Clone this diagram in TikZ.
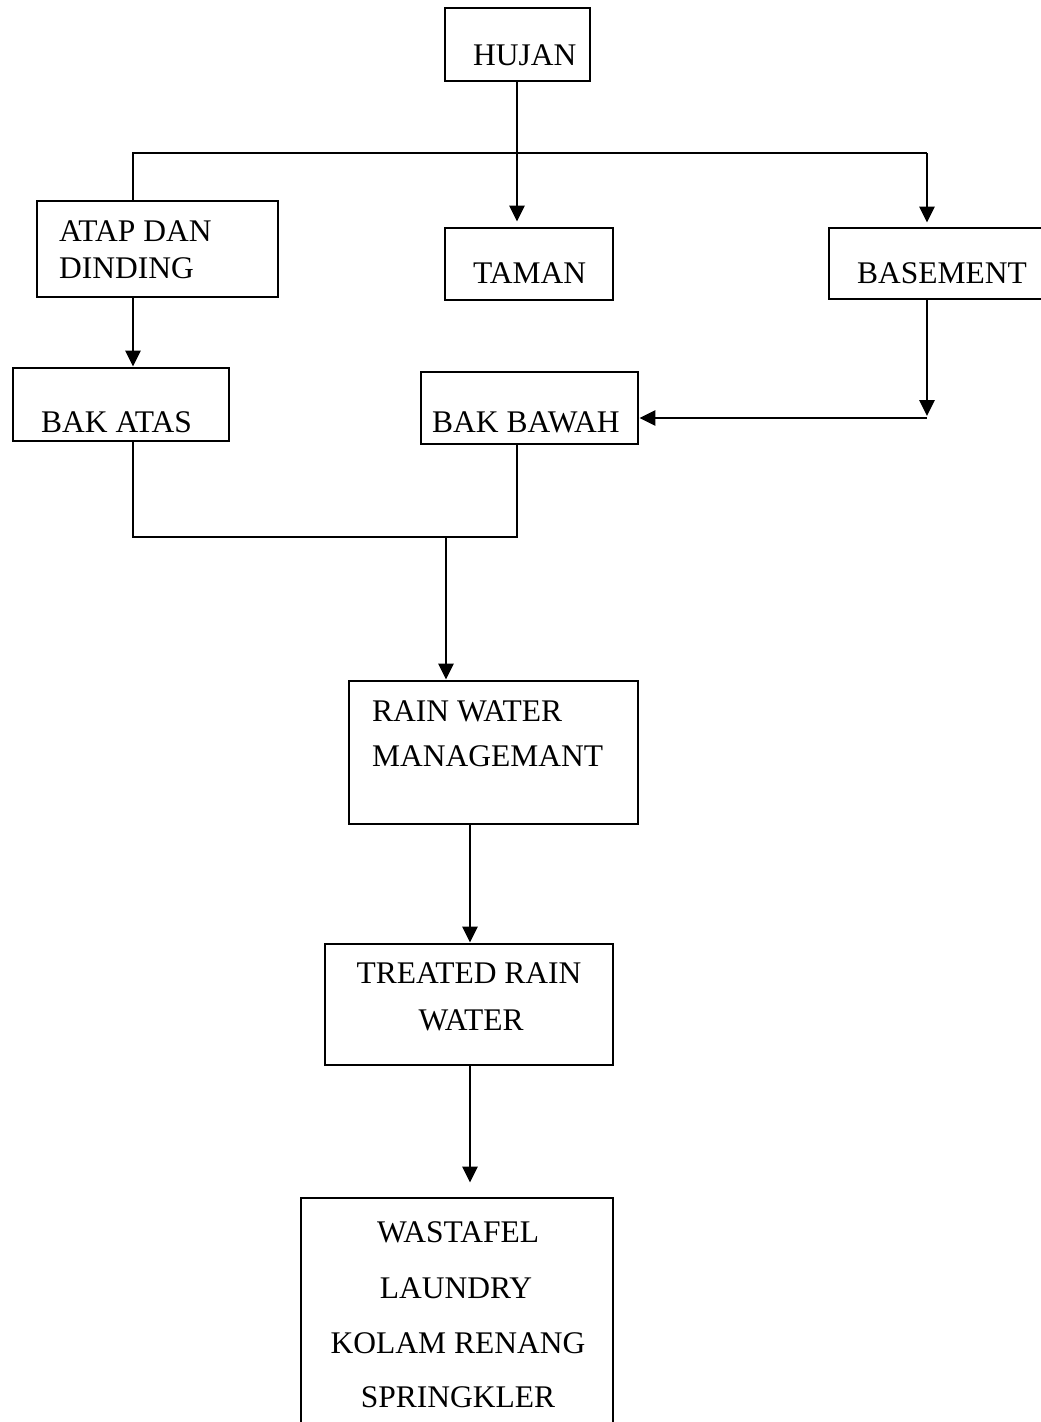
\documentclass[tikz,border=0pt]{standalone}
\usepackage{fontspec}
\setmainfont{Liberation Serif}
\usetikzlibrary{arrows.meta}
\begin{document}
\begin{tikzpicture}[x=1pt,y=-1pt,
  box/.style={draw,line width=2.8pt,inner sep=0pt},
  lbl/.style={anchor=base west,inner sep=0pt,font=\fontsize{31.5}{36}\selectfont},
  clbl/.style={anchor=base,inner sep=0pt,font=\fontsize{31.5}{36}\selectfont},
  conn/.style={line width=2.8pt},
  arr/.style={line width=2.8pt,-{Triangle[length=16pt,width=15pt]}}]
\useasboundingbox (0,0) rectangle (1041,1422);
\clip (0,0) rectangle (1041,1422);
% boxes
\node[box,minimum width=145pt,minimum height=73pt] (hujan) at (517.5,44.5) {};
\node[box,minimum width=241pt,minimum height=96pt] (atap) at (157.5,249) {};
\node[box,minimum width=168pt,minimum height=72pt] (taman) at (529,264) {};
\node[box,minimum width=231pt,minimum height=71pt] (basement) at (944.5,263.5) {};
\node[box,minimum width=216pt,minimum height=73pt] (bakatas) at (121,404.5) {};
\node[box,minimum width=217pt,minimum height=72pt] (bakbawah) at (529.5,408) {};
\node[box,minimum width=289pt,minimum height=143pt] (rain) at (493.5,752.5) {};
\node[box,minimum width=288pt,minimum height=121pt] (treated) at (469,1004.5) {};
\node[box,minimum width=312pt,minimum height=242pt] (use) at (457,1319) {};
% texts
\node[lbl] (thujan) at (473,65) {HUJAN};
\node[lbl] (tatap1) at (59,241) {ATAP DAN};
\node[lbl] (tatap2) at (59,278) {DINDING};
\node[lbl] (ttaman) at (473,283) {TAMAN};
\node[lbl] (tbase) at (857,283) {BASEMENT};
\node[lbl] (tbakatas) at (41,432) {BAK ATAS};
\node[lbl] (tbakbawah) at (432,432) {BAK BAWAH};
\node[lbl] (train1) at (372,721) {RAIN WATER};
\node[lbl] (train2) at (372,766) {MANAGEMANT};
\node[clbl] (ttreat1) at (469,983) {TREATED RAIN};
\node[clbl] (ttreat2) at (471,1030) {WATER};
\node[clbl] (tuse1) at (458,1242) {WASTAFEL};
\node[clbl] (tuse2) at (456,1298) {LAUNDRY};
\node[clbl] (tuse3) at (458,1353) {KOLAM RENANG};
\node[clbl] (tuse4) at (458,1407) {SPRINGKLER};
% helper coordinates
\coordinate (tl) at (133,153);
\coordinate (tr) at (927,153);
\coordinate (br) at (927,418);
\coordinate (ml) at (133,537);
\coordinate (mr) at (517,537);
\coordinate (mm) at (446,537);
\coordinate (cx) at (470,0);
\coordinate (hx) at (517,0);
% connectors
\draw[arr] (hx |- hujan.south) -- ([yshift=5pt]hx |- taman.north);
\draw[conn] (tl |- atap.north) -- (tl) -- (tr);
\draw[arr] (tr) -- ([yshift=4pt]tr |- basement.north);
\draw[arr] (tl |- atap.south) -- (tl |- bakatas.north);
\draw[arr] (tr |- basement.south) -- ([yshift=2pt]br);
\draw[arr] (br) -- (br -| bakbawah.east);
\draw[conn] (tl |- bakatas.south) -- (ml) -- (mr) -- (mr |- bakbawah.south);
\draw[arr] (mm) -- (mm |- rain.north);
\draw[arr] (cx |- rain.south) -- (cx |- treated.north);
\draw[arr] (cx |- treated.south) -- ([yshift=14pt]cx |- use.north);
\end{tikzpicture}
\end{document}
